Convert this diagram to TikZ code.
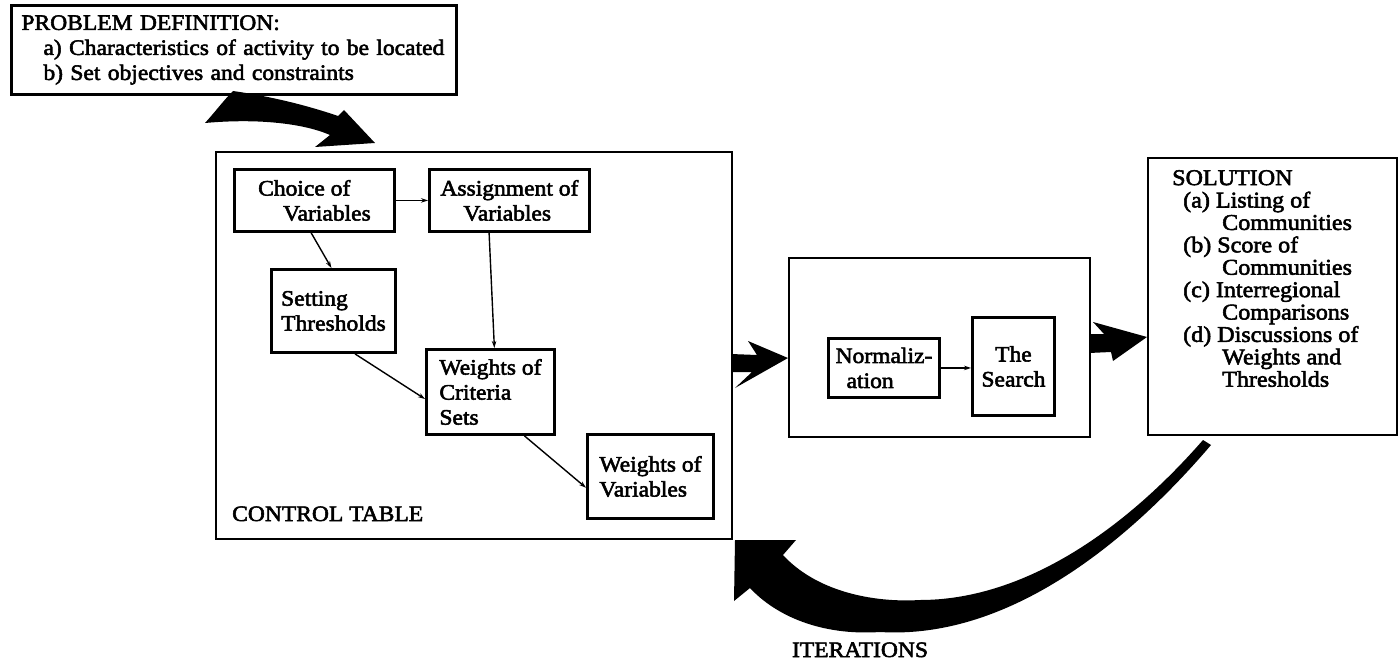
\documentclass[tikz,border=0pt]{standalone}
\usepackage{fontspec}
\setmainfont{Liberation Serif}[FakeStretch=1.07,FakeBold=2.5]
\usetikzlibrary{arrows.meta,calc}

\begin{document}
\begin{tikzpicture}[x=1pt,y=-1pt,
  box/.style={draw, line width=2.9pt, rectangle, inner sep=0pt, anchor=north west,
              font=\fontsize{22}{25}\selectfont, align=left},
  bigbox/.style={draw, line width=2.4pt, rectangle, inner sep=0pt, anchor=north west},
  txt/.style={inner sep=0pt, font=\fontsize{22}{25}\selectfont, align=left},
  link/.style={line width=1.4pt, -{Stealth[length=7pt,width=4.5pt]}},
  heavy/.style={fill=black, draw=none}
]
\useasboundingbox (0,0) rectangle (1399,660);

% problem statement
\node[box, minimum width=445pt, minimum height=89pt, text width=425pt] (prob) at (10,4)
  {PROBLEM DEFINITION:\\
   \hspace*{22pt}a) Characteristics of activity to be located\\
   \hspace*{22pt}b) Set objectives and constraints};

% control table frame and its steps
\node[bigbox, minimum width=516pt, minimum height=387pt] (ctrl) at (215,151) {};
\node[txt, anchor=base west] (ctrlT) at (232,521) {CONTROL TABLE};

\node[box, minimum width=160pt, minimum height=62pt] (choice) at (233,168)
  {Choice of\\\hspace*{25pt}Variables};
\node[box, minimum width=160pt, minimum height=62pt] (assign) at (428,168)
  {Assignment of\\\hspace*{23pt}Variables};
\node[box, minimum width=124pt, minimum height=83pt] (setT) at (270,268)
  {Setting\\Thresholds};
\node[box, minimum width=128pt, minimum height=85pt] (wcs) at (425,348)
  {Weights of\\Criteria\\Sets};
\node[box, minimum width=126pt, minimum height=84pt] (wov) at (586,433)
  {Weights of\\Variables};

\draw[link] (choice.east) -- (assign.west);
\draw[link] ($(choice.south west)!0.48!(choice.south east)$) --
            ($(setT.north west)!0.484!(setT.north east)$);
\draw[link] ($(assign.south west)!0.375!(assign.south east)$) --
            ($(wcs.north west)!0.53!(wcs.north east)$);
\draw[link] ($(setT.south west)!0.67!(setT.south east)$) --
            ($(wcs.north west)!0.58!(wcs.south west)$);
\draw[link] ($(wcs.south west)!0.76!(wcs.south east)$) --
            ($(wov.north west)!0.63!(wov.south west)$);

% processing frame
\node[bigbox, minimum width=301pt, minimum height=179pt] (proc) at (788,257) {};
\node[box, minimum width=111pt, minimum height=59pt] (norm) at (827,337)
  {Normaliz-\\\hspace*{11pt}ation};
\node[box, minimum width=82pt, minimum height=98pt, align=center] (search) at (971,316)
  {The\\Search};
\draw[link] (norm.east) -- (norm.east -| search.west);

% solution frame
\node[bigbox, minimum width=249pt, minimum height=277pt] (sol) at (1147,157) {};
\node[txt, anchor=north west, font=\fontsize{22.5}{22.4}\selectfont] (solT) at (1172,170)
  {SOLUTION\\
   \hspace*{11pt}(a) Listing of\\
   \hspace*{50pt}Communities\\
   \hspace*{11pt}(b) Score of\\
   \hspace*{50pt}Communities\\
   \hspace*{11pt}(c) Interregional\\
   \hspace*{50pt}Comparisons\\
   \hspace*{11pt}(d) Discussions of\\
   \hspace*{50pt}Weights and\\
   \hspace*{50pt}Thresholds};

% heavy flow arrows
\fill[heavy] (205,123) .. controls (215,112) and (224,100) .. (233,91)
  .. controls (275,97) and (312,107) .. (338,116) -- (344,110) -- (375,143)
  -- (315,147) -- (330,135)
  .. controls (305,124) and (260,118) .. (205,123) -- cycle;

\fill[heavy] (731,354) -- (757,355) -- (748,341) -- (788,358) -- (735,388)
  -- (752,372) -- (731,372) -- cycle;

\fill[heavy] (1089,334) -- (1104,334) -- (1093,322) -- (1147,337) -- (1113,361)
  -- (1111,352) -- (1089,353) -- cycle;

% feedback arrow
\fill[heavy] (1211,445) .. controls (1130,540) and (1010,640) .. (880,632)
  .. controls (820,636) and (775,615) .. (750,588) -- (734,601) -- (735,540)
  -- (796,540) -- (783,555)
  .. controls (815,590) and (870,603) .. (920,600)
  .. controls (1020,600) and (1120,535) .. (1203,440) -- cycle;
\node[txt, anchor=base] (iter) at (860,657) {ITERATIONS};

\end{tikzpicture}
\end{document}
